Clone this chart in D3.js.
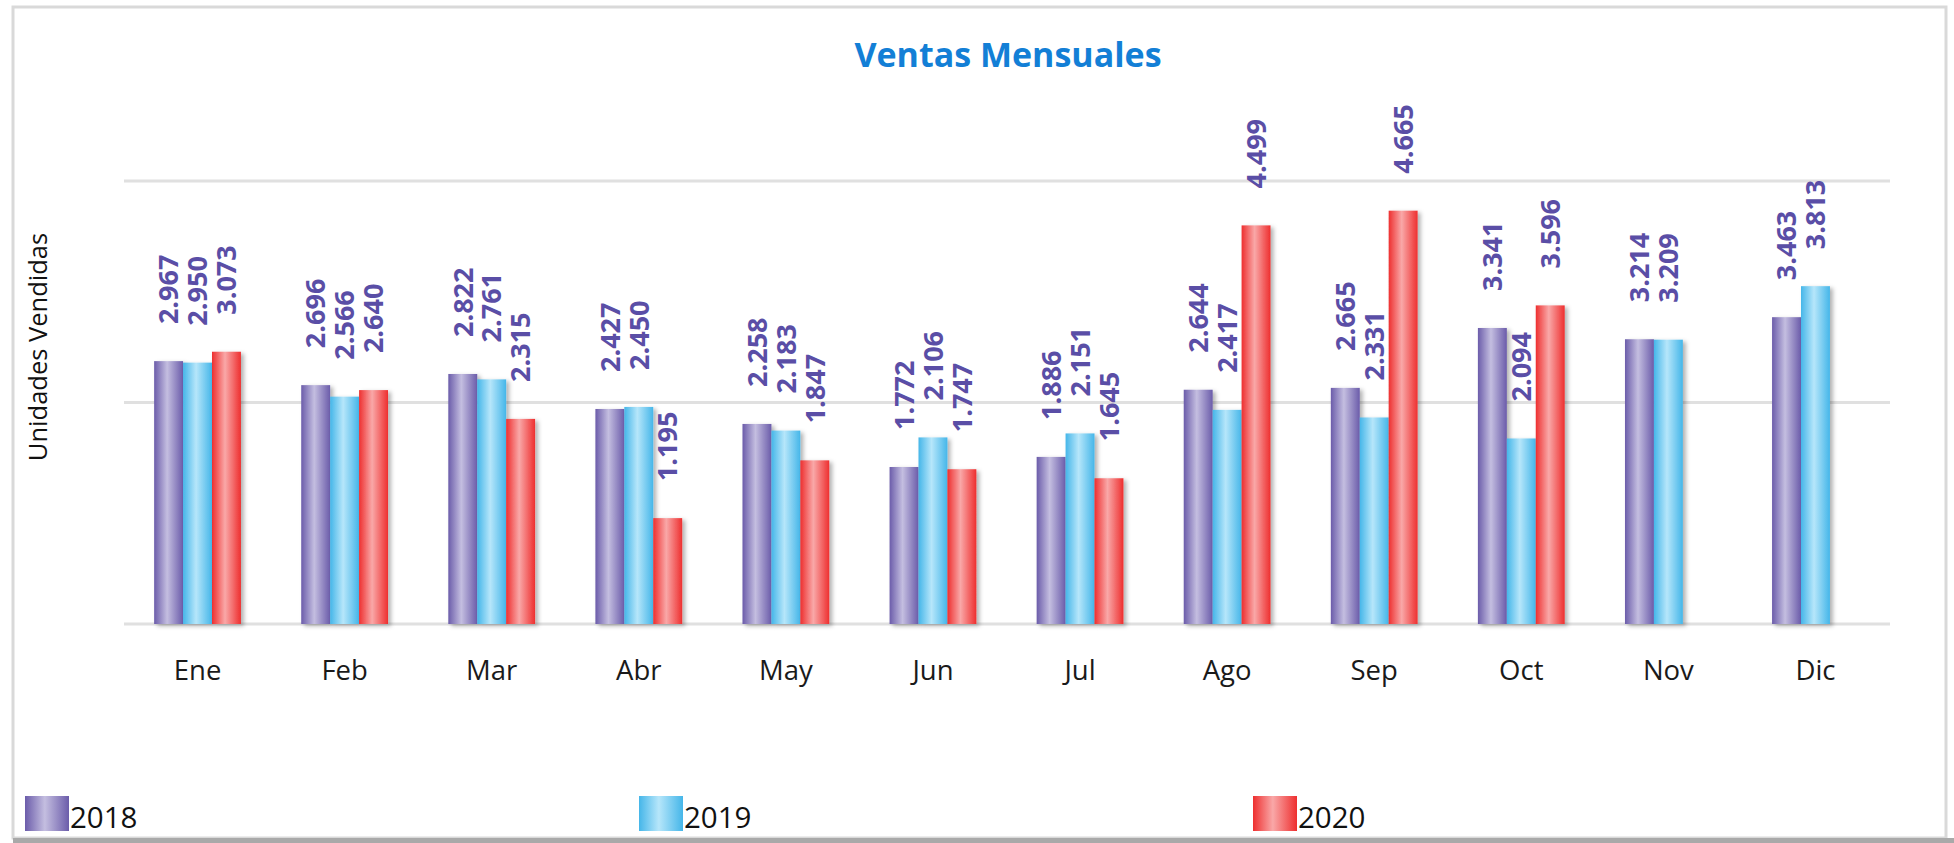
<!DOCTYPE html>
<html>
<head>
<meta charset="utf-8">
<script src="https://cdn.jsdelivr.net/npm/d3@7"></script>
<style>
  body { margin: 0; background: #fff; }
</style>
</head>
<body>
<svg id="chart" width="1954" height="843"></svg>
<script>
const meses = ['Ene', 'Feb', 'Mar', 'Abr', 'May', 'Jun', 'Jul', 'Ago', 'Sep', 'Oct', 'Nov', 'Dic'];
const anios = ['2018', '2019', '2020'];
const ventas2018 = [2967, 2696, 2822, 2427, 2258, 1772, 1886, 2644, 2665, 3341, 3214, 3463];
const ventas2019 = [2950, 2566, 2761, 2450, 2183, 2106, 2151, 2417, 2331, 2094, 3209, 3813];
const ventas2020 = [3073, 2640, 2315, 1195, 1847, 1747, 1645, 4499, 4665, 3596, null, null];
const gridTicks = [0, 2500, 5000];

// edge / centre colours of the cylinder look
const colores = {
  '2018': ['#6b5caa', '#c4bee0'],
  '2019': ['#45b6e9', '#b6e6fa'],
  '2020': ['#ee2f2f', '#f9a8a8']
};

const series = [ventas2018, ventas2019, ventas2020].map(function(vals, i) {
  return { anio: anios[i], values: vals };
});

const svg = d3.select('#chart');
const width = +svg.attr('width');

const es = d3.formatLocale({ decimal: ',', thousands: '.', grouping: [3], currency: ['', '€'] });
const fmt = es.format(',d');

const defs = svg.append('defs');
anios.forEach(function(a) {
  const g = defs.append('linearGradient')
    .attr('id', 'grad-' + a)
    .attr('x1', '0%').attr('x2', '100%').attr('y1', '0%').attr('y2', '0%');
  g.append('stop').attr('offset', '0%').attr('stop-color', colores[a][0]);
  g.append('stop').attr('offset', '45%').attr('stop-color', colores[a][1]);
  g.append('stop').attr('offset', '100%').attr('stop-color', colores[a][0]);
});
const shadow = defs.append('filter').attr('id', 'shadow')
  .attr('x', '-20%').attr('y', '-5%').attr('width', '150%').attr('height', '115%');
shadow.append('feDropShadow')
  .attr('dx', 3).attr('dy', 2).attr('stdDeviation', 2)
  .attr('flood-color', '#000').attr('flood-opacity', 0.3);

// frame
svg.append('rect')
  .attr('x', 13).attr('y', 7)
  .attr('width', 1933).attr('height', 831)
  .attr('fill', '#fff')
  .attr('stroke', '#d9d9d9').attr('stroke-width', 3);
svg.append('rect')
  .attr('x', 13).attr('y', 838)
  .attr('width', width - 13).attr('height', 5)
  .attr('fill', '#a9a9a9');

const x = d3.scaleBand()
  .domain(meses)
  .range([124, 1889])
  .paddingInner(0.41)
  .paddingOuter(0.205);

const xSub = d3.scaleBand()
  .domain(anios)
  .range([0, x.bandwidth()]);

const y = d3.scaleLinear()
  .domain([0, 5000])
  .range([624, 181]);

// gridlines
svg.append('g')
  .selectAll('line')
  .data(gridTicks)
  .enter().append('line')
  .attr('x1', 124).attr('x2', 1890)
  .attr('y1', function(d) { return y(d); })
  .attr('y2', function(d) { return y(d); })
  .attr('stroke', '#e0e0e0')
  .attr('stroke-width', 3);

// title
svg.append('text')
  .attr('x', 1008).attr('y', 67)
  .attr('text-anchor', 'middle')
  .attr('font-family', 'Open Sans')
  .attr('font-weight', 'bold')
  .attr('font-size', 34)
  .attr('fill', '#137fd6')
  .text('Ventas Mensuales');

// y axis title
svg.append('text')
  .attr('transform', 'translate(47,347) rotate(-90)')
  .attr('text-anchor', 'middle')
  .attr('font-family', 'Open Sans')
  .attr('font-size', 25.5)
  .attr('fill', '#111')
  .text('Unidades Vendidas');

// bars
const groups = svg.append('g')
  .selectAll('g')
  .data(series)
  .enter().append('g');

function puntos(s) {
  return s.values.map(function(v, i) { return { anio: s.anio, mes: meses[i], value: v }; })
    .filter(function(d) { return d.value != null; });
}

groups.selectAll('rect')
  .data(puntos)
  .enter().append('rect')
  .attr('x', function(d) { return x(d.mes) + xSub(d.anio); })
  .attr('y', function(d) { return y(d.value); })
  .attr('width', xSub.bandwidth())
  .attr('height', function(d) { return y(0) - y(d.value); })
  .attr('fill', function(d) { return 'url(#grad-' + d.anio + ')'; })
  .attr('filter', 'url(#shadow)');

// value labels
groups.selectAll('text')
  .data(puntos)
  .enter().append('text')
  .attr('transform', function(d) {
    const cx = x(d.mes) + xSub(d.anio) + xSub.bandwidth() / 2;
    return 'translate(' + cx + ',' + (y(d.value) - 37) + ') rotate(-90)';
  })
  .attr('dy', '0.36em')
  .attr('font-family', 'Open Sans')
  .attr('font-weight', 'bold')
  .attr('font-size', 27)
  .attr('fill', '#5a4ea6')
  .text(function(d) { return fmt(d.value); });

// x axis labels
const xAxis = svg.append('g')
  .attr('transform', 'translate(0,' + 670 + ')')
  .call(d3.axisBottom(x).tickSize(0).tickPadding(0));
xAxis.select('.domain').remove();
xAxis.selectAll('text')
  .attr('font-family', 'Open Sans')
  .attr('font-size', 27.5)
  .attr('fill', '#1a1a1a')
  .attr('dy', '0.35em');

// legend
const legendX = d3.scalePoint().domain(anios).range([25, 1253]);
const leg = svg.append('g')
  .selectAll('g')
  .data(anios)
  .enter().append('g')
  .attr('transform', function(d) { return 'translate(' + legendX(d) + ',796)'; });
leg.append('rect')
  .attr('width', 44).attr('height', 35)
  .attr('fill', function(d) { return 'url(#grad-' + d + ')'; });
leg.append('text')
  .attr('x', 45).attr('y', 32)
  .attr('font-family', 'Open Sans')
  .attr('font-size', 29.5)
  .attr('fill', '#111')
  .text(function(d) { return d; });
</script>
</body>
</html>
